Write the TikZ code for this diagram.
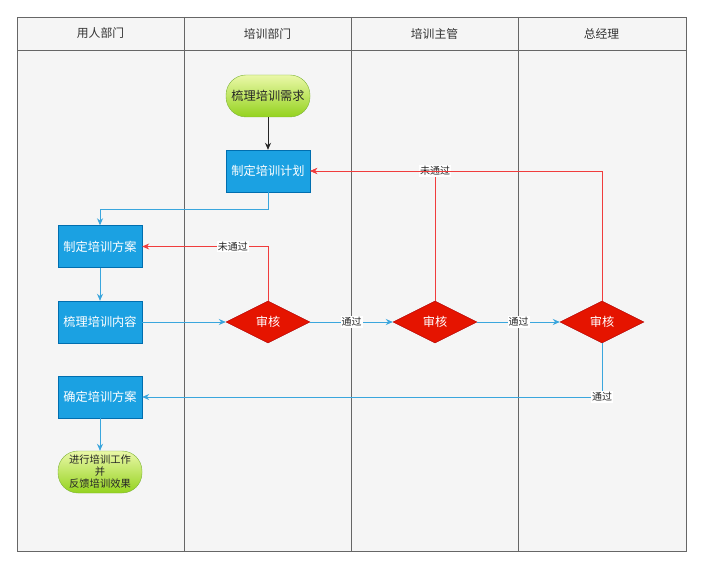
\documentclass[tikz,border=0pt]{standalone}
\usepackage{fontspec}
\setmainfont{Noto Sans CJK SC}
\usetikzlibrary{arrows.meta}
\usetikzlibrary{shapes.geometric}
\usetikzlibrary{positioning}

\definecolor{lanebg}{HTML}{F5F5F5}
\definecolor{laneline}{HTML}{666666}
\definecolor{boxblue}{HTML}{1BA1E2}
\definecolor{boxedge}{HTML}{006EAF}
\definecolor{flowblue}{HTML}{3AA6DD}
\definecolor{diared}{HTML}{E51400}
\definecolor{diaedge}{HTML}{B20000}
\definecolor{backred}{HTML}{F03C3C}
\definecolor{greentop}{HTML}{EAF8A8}
\definecolor{greenbot}{HTML}{94D21E}
\definecolor{greenedge}{HTML}{7FB53A}

\begin{document}
\begin{tikzpicture}[x=1pt,y=-1pt,>={Stealth[length=7pt,width=6pt]},
  lane/.style={draw=laneline,fill=lanebg,line width=0.6pt},
  head/.style={font=\fontsize{11.8}{13}\selectfont,text=black!80},
  taskbox/.style={draw=boxedge,fill=boxblue,text=white,minimum width=84pt,minimum height=42pt,inner sep=1pt,font=\fontsize{12.2}{14}\selectfont},
  termbox/.style={draw=greenedge,top color=greentop,bottom color=greenbot,rounded corners=20pt,minimum width=84pt,minimum height=42pt,inner sep=1pt,text=black!85},
  checkbox/.style={diamond,aspect=2,draw=diaedge,fill=diared,text=white,minimum width=84pt,minimum height=42pt,inner sep=0pt,font=\fontsize{12.2}{14}\selectfont},
  okline/.style={draw=flowblue,line width=0.8pt,->},
  noline/.style={draw=backred,line width=0.8pt,->},
  tag/.style={fill=white,inner sep=1pt,font=\fontsize{10}{11}\selectfont,text=black!85}]
\useasboundingbox (0,0) rectangle (703,569);

% lanes
\draw[lane] (17,17) rectangle (686,551);
\draw[laneline,line width=0.6pt] (17,50) -- (686,50);
\foreach \x in {184,351,518}
  \draw[laneline,line width=0.6pt] (\x,17) -- (\x,551);
\node[head] (h1) at (100.5,33.5) {用人部门};
\node[head] (h2) at (267.5,33.5) {培训部门};
\node[head] (h3) at (434.5,33.5) {培训主管};
\node[head] (h4) at (601.5,33.5) {总经理};

% nodes
\node[termbox,font=\fontsize{12.2}{14}\selectfont] (need) at (268,96) {梳理培训需求};
\node[taskbox] (plan) at (268,171) {制定培训计划};
\node[taskbox] (scheme) at (100,246.5) {制定培训方案};
\node[taskbox] (content) at (100,322) {梳理培训内容};
\node[checkbox] (chk1) at (268,322) {审核};
\node[checkbox] (chk2) at (435,322) {审核};
\node[checkbox] (chk3) at (602,322) {审核};
\node[taskbox] (final) at (100,397) {确定培训方案};
\node[termbox,align=center,font=\fontsize{10.3}{12}\selectfont] (run) at (100,472) {进行培训工作\\并\\反馈培训效果};

\coordinate (c1) at (268,209);
\coordinate (c2) at (100,209);

% connectors
\draw[->,line width=0.8pt,black!85] (need)--(plan);
\draw[okline] (plan.south)--(c1)--(c2)--(scheme.north);
\draw[okline] (scheme)--(content);
\draw[okline] (content)--(chk1);
\draw[noline] (chk1.north) |- node[tag,pos=0.64] {未通过} (scheme.east);
\draw[okline] (chk1)-- node[tag] {通过} (chk2);
\draw[noline] (chk2.north) |- node[tag,pos=0.5] {未通过} (plan.east);
\draw[noline] (chk3.north) |- (plan.east);
\draw[okline] (chk2)-- node[tag] {通过} (chk3);
\draw[okline] (chk3.south) |- node[tag,pos=0.5] {通过} (final.east);
\draw[okline] (final)--(run);
\end{tikzpicture}
\end{document}
